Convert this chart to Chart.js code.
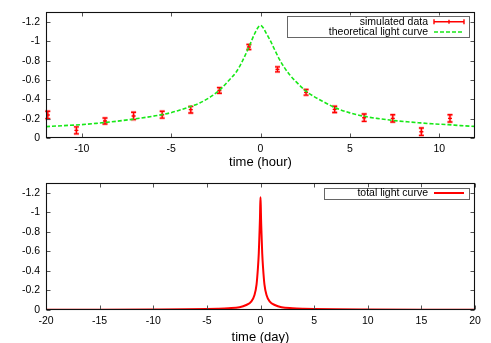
<!DOCTYPE html>
<html><head><meta charset="utf-8">
<script src="https://cdn.jsdelivr.net/npm/chart.js@4.4.0/dist/chart.umd.min.js"></script>
<style>
html,body{margin:0;padding:0;background:#fff;}
#wrap{position:relative;width:491px;height:343px;overflow:hidden;}
#c1{position:absolute;left:0;top:0;}
#c2{position:absolute;left:0;top:170px;}
</style></head><body>
<div id="wrap">
<canvas id="c1" width="491" height="170"></canvas>
<canvas id="c2" width="491" height="173"></canvas>
</div>
<script>
// ---- data ----
const hourTicks = [-10, -5, 0, 5, 10];
const dayTicks = [-20, -15, -10, -5, 0, 5, 10, 15, 20];
const magTicks = [0, -0.2, -0.4, -0.6, -0.8, -1, -1.2];

const simTime = [-11.9, -10.3, -8.7, -7.1, -5.5, -3.9, -2.3, -0.65, 0.95, 2.55, 4.15, 5.8, 7.4, 9.0, 10.6];
const simMag  = [-0.238, -0.079, -0.176, -0.228, -0.241, -0.293, -0.492, -0.941, -0.710, -0.472, -0.296, -0.210, -0.203, -0.065, -0.203];
const simErr  = [0.038, 0.036, 0.031, 0.038, 0.035, 0.034, 0.029, 0.026, 0.026, 0.029, 0.032, 0.038, 0.038, 0.038, 0.038];

const theoTime = [-12, -11, -10, -9, -8, -7, -6, -5, -4.5, -4, -3.4, -2.8, -2.26, -1.8, -1.33, -1.0, -0.65, -0.35, -0.15, 0,
                  0.15, 0.3, 0.52, 0.8, 1.07, 1.35, 1.63, 2.0, 2.56, 3.0, 3.48, 4.22, 5.0, 5.8, 6.5, 7.35, 8.2, 8.83, 9.6, 10.5, 11.2, 12];
const theoMag  = [-0.118, -0.128, -0.138, -0.155, -0.174, -0.198, -0.226, -0.262, -0.290, -0.320, -0.362, -0.425, -0.500, -0.590, -0.690, -0.800, -0.941, -1.070, -1.140, -1.165,
                  -1.140, -1.090, -1.017, -0.910, -0.810, -0.725, -0.655, -0.580, -0.482, -0.428, -0.379, -0.310, -0.260, -0.224, -0.203, -0.183, -0.168, -0.158, -0.147, -0.138, -0.128, -0.120];

const totalDay = [-20, -15, -10, -7, -5, -4, -3, -1.96, -1.33, -0.87, -0.56, -0.37, -0.24, -0.16, -0.1, -0.05, -0.03, 0,
                  0.03, 0.05, 0.1, 0.16, 0.24, 0.37, 0.56, 0.87, 1.33, 1.96, 3, 4, 5, 7, 10, 15, 20];
const totalMag = [-0.002, -0.003, -0.005, -0.007, -0.010, -0.013, -0.018, -0.028, -0.051, -0.085, -0.154, -0.26, -0.43, -0.58, -0.77, -0.94, -1.05, -1.155,
                  -1.05, -0.94, -0.77, -0.58, -0.43, -0.26, -0.154, -0.085, -0.051, -0.028, -0.018, -0.013, -0.010, -0.007, -0.005, -0.003, -0.002];

const FONT = "'Liberation Sans', Arial, Helvetica, sans-serif";

function pts(xs, ys){ return xs.map((v,i)=>({x:v, y:ys[i]})); }
function fmt(v){ return String(Math.round(v*10)/10); }

// error bars for the simulated data, drawn through the chart scales
const errorBars = {
  id:'errorBars',
  beforeDatasetsDraw(chart, args, opts){
    if(!opts || !opts.use) return;
    const {ctx, scales:{x,y}} = chart;
    ctx.save();
    const draw = (w, col) => {
      ctx.strokeStyle = col; ctx.lineWidth = w;
      ctx.beginPath();
      simTime.forEach((t,i)=>{
        const px = x.getPixelForValue(t);
        const y1 = y.getPixelForValue(simMag[i]-simErr[i]);
        const y2 = y.getPixelForValue(simMag[i]+simErr[i]);
        ctx.moveTo(px,y1); ctx.lineTo(px,y2);
        ctx.moveTo(px-2.5,y1); ctx.lineTo(px+2.5,y1);
        ctx.moveTo(px-2.5,y2); ctx.lineTo(px+2.5,y2);
      });
      ctx.stroke();
    };
    draw(3, 'rgba(255,60,60,0.35)');
    draw(1.4, '#ff0000');
    ctx.restore();
  }
};

// gnuplot-like frame, mirrored inward ticks and boxed legend
const frameLegend = {
  id:'frameLegend',
  afterDraw(chart, args, opts){
    const {ctx, chartArea:a, scales:{x,y}} = chart;
    ctx.save();
    const L = Math.round(a.left)+0.5, R = Math.round(a.right)-0.5, T = Math.round(a.top)+0.5, B = Math.round(a.bottom)-0.5;
    const tl = 4;
    ctx.strokeStyle = '#555'; ctx.lineWidth = 1;
    ctx.beginPath();
    x.ticks.forEach(t=>{
      const px = Math.round(x.getPixelForValue(t.value))+0.5;
      ctx.moveTo(px,B); ctx.lineTo(px,B-tl);
      ctx.moveTo(px,T); ctx.lineTo(px,T+tl);
    });
    y.ticks.forEach(t=>{
      const py = Math.round(y.getPixelForValue(t.value))+0.5;
      ctx.moveTo(L,py); ctx.lineTo(L+tl,py);
      ctx.moveTo(R,py); ctx.lineTo(R-tl,py);
    });
    ctx.stroke();
    ctx.strokeStyle = '#111'; ctx.lineWidth = 1.1;
    ctx.strokeRect(L, T, R-L, B-T);

    // legend
    const lg = opts;
    ctx.fillStyle = '#fff';
    ctx.fillRect(lg.left, lg.top, lg.right-lg.left, lg.bottom-lg.top);
    ctx.strokeStyle = '#666'; ctx.lineWidth = 1;
    ctx.strokeRect(Math.round(lg.left)+0.5, Math.round(lg.top)+0.5, Math.round(lg.right-lg.left), Math.round(lg.bottom-lg.top));
    ctx.font = "10.5px " + FONT;
    ctx.textAlign = 'right'; ctx.textBaseline = 'middle'; ctx.fillStyle = '#000';
    lg.items.forEach((it, k)=>{
      const ds = chart.data.datasets[it.ds];
      const yy = lg.rowY[k];
      ctx.fillText(ds.label, lg.textRight, yy);
      ctx.save();
      ctx.strokeStyle = ds.borderColor;
      ctx.lineWidth = it.w;
      ctx.setLineDash(it.dash || []);
      ctx.beginPath();
      ctx.moveTo(lg.s0, yy); ctx.lineTo(lg.s1, yy);
      if(it.caps){
        ctx.moveTo(lg.s0, yy-2.5); ctx.lineTo(lg.s0, yy+2.5);
        ctx.moveTo(lg.s1, yy-2.5); ctx.lineTo(lg.s1, yy+2.5);
        const m = (lg.s0+lg.s1)/2;
        ctx.moveTo(m, yy-2); ctx.lineTo(m, yy+2);
      }
      ctx.stroke();
      ctx.restore();
    });
    ctx.restore();
  }
};

function yScale(){
  return {
    reverse: true, min: -1.3, max: 0,
    afterBuildTicks: s => { s.ticks = magTicks.map(v=>({value:v})); },
    afterFit: s => { s.width = 46; },
    grid: {display:false, drawTicks:false},
    border: {display:false},
    ticks: {padding:6, color:'#000', font:{family:FONT, size:10.5}, callback: v => fmt(v)}
  };
}
function xScale(min, max, ticks, title, h, tpad){
  return {
    type:'linear', min, max,
    afterBuildTicks: s => { s.ticks = ticks.map(v=>({value:v})); },
    afterFit: s => { s.height = h; },
    grid: {display:false, drawTicks:false},
    border: {display:false},
    ticks: {padding:5, color:'#000', maxRotation:0, font:{family:FONT, size:10.5}, callback: v => fmt(v)},
    title: {display:true, text:title, color:'#000', font:{family:FONT, size:13}, padding:{top:0, bottom:tpad}}
  };
}

new Chart(document.getElementById('c1'), {
  type:'scatter',
  data:{datasets:[
    {label:'theoretical light curve', data: pts(theoTime, theoMag), showLine:true, pointRadius:0,
     borderColor:'#18e818', borderWidth:1.6, borderDash:[4,2], cubicInterpolationMode:'monotone', order:0},
    {label:'simulated data', data: pts(simTime, simMag), pointStyle:'line', pointRadius:2,
     borderColor:'#ff0000', backgroundColor:'#ff0000', pointBorderWidth:1.4, order:1}
  ]},
  options:{
    responsive:false, animation:false, devicePixelRatio:1,
    layout:{padding:{left:0, right:16, top:12, bottom:0}},
    scales:{ x: xScale(-12, 12, hourTicks, 'time (hour)', 32, 0), y: yScale() },
    plugins:{
      legend:{display:false}, tooltip:{enabled:false},
      errorBars:{use:true},
      frameLegend:{left:287, right:469, top:15.5, bottom:36.5, rowY:[21.7, 32], textRight:428, s0:434, s1:464,
        items:[{ds:1, w:1.4, caps:true}, {ds:0, w:1.6, dash:[4,2]}]}
    }
  },
  plugins:[errorBars, frameLegend]
});

new Chart(document.getElementById('c2'), {
  type:'scatter',
  data:{datasets:[
    {label:'total light curve', data: pts(totalDay, totalMag), showLine:true, pointRadius:0,
     borderColor:'#ff0000', borderWidth:2, cubicInterpolationMode:'monotone'}
  ]},
  options:{
    responsive:false, animation:false, devicePixelRatio:1,
    layout:{padding:{left:0, right:16, top:13, bottom:0}},
    scales:{ x: xScale(-20, 20, dayTicks, 'time (day)', 33, -2), y: yScale() },
    plugins:{
      legend:{display:false}, tooltip:{enabled:false},
      errorBars:{use:false},
      frameLegend:{left:324, right:469, top:17.5, bottom:28.5, rowY:[23], textRight:428, s0:434, s1:464,
        items:[{ds:0, w:2}]}
    }
  },
  plugins:[errorBars, frameLegend]
});
</script>
</body></html>
